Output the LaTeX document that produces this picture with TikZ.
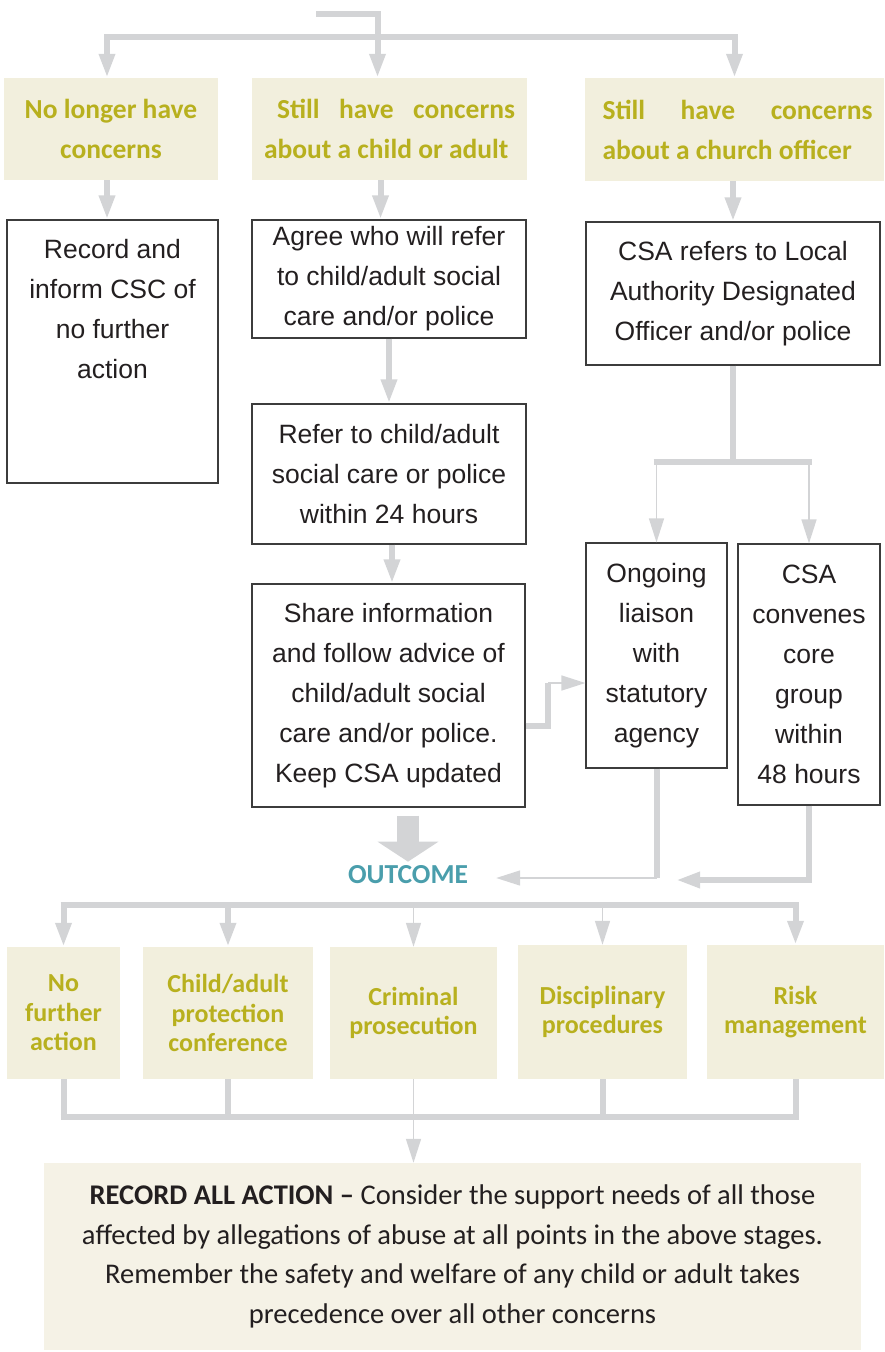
\documentclass[tikz,border=0pt]{standalone}
\usepackage{fontspec}
\usepackage{tikz}
\usetikzlibrary{arrows.meta}

\setmainfont{Liberation Sans}
\newfontfamily\calfont{Carlito}

\definecolor{gfill}{RGB}{242,239,221}
\definecolor{rfill}{RGB}{245,242,230}
\definecolor{gtext}{RGB}{184,176,30}
\definecolor{otext}{RGB}{74,158,172}
\definecolor{conn}{RGB}{211,212,214}
\definecolor{boxline}{RGB}{60,60,60}
\definecolor{txt}{RGB}{35,31,32}

\newcommand{\gfont}{\calfont\bfseries\fontsize{27.5}{40}\selectfont}
\newcommand{\bfont}{\calfont\bfseries\fontsize{26}{29.5}\selectfont}
\newcommand{\wfont}{\fontsize{26.5}{40}\selectfont}
\newcommand{\rfont}{\calfont\fontsize{28.5}{39.5}\selectfont}

\tolerance=10000
\hyphenpenalty=10000

\begin{document}
\begin{tikzpicture}[x=1pt, y=-1pt,
    gbox/.style={fill=gfill, text=gtext, font=\gfont, align=center, inner sep=0pt},
    obox/.style={gbox, font=\bfont},
    wbox/.style={draw=boxline, line width=1.2pt, text=txt, font=\wfont, align=center, inner sep=0pt},
    thickline/.style={color=conn, line width=6pt},
    thinline/.style={color=conn, line width=1.5pt},
    head/.style={-{Triangle[length=24pt, width=15pt]}},
    fatline/.style={color=conn, line width=22pt, -{Triangle[length=20pt, width=60pt]}}]
	\useasboundingbox (0,0) rectangle (884,1352);

	\node[gbox, minimum width=214pt, minimum height=102pt] (a) at (111, 129)     {No longer have\\concerns};
	\node[gbox, minimum width=275pt, minimum height=102pt, text width=251pt, align=justify] (b) at (389.5, 129)     {\hspace*{13pt}Still have concerns\linebreak about a child or adult};
	\node[gbox, minimum width=299pt, minimum height=103pt, text width=276pt, align=justify] (c) at (734.5, 129.5)     {\hspace*{6pt}Still have concerns\linebreak \hspace*{6pt}about a church officer};

	\node[wbox, minimum width=211pt, minimum height=263pt] (d) at (112.5, 351.5)     {Record and\\inform CSC of\\no further\\action\\[46pt]\mbox{}};
	\node[wbox, minimum width=274pt, minimum height=118pt] (e) at (389, 279)     {Agree who will refer\\to child/adult social\\care and/or police};
	\node[wbox, minimum width=294pt, minimum height=143pt] (f) at (733, 293.5)     {CSA refers to Local\\Authority Designated\\Officer and/or police};

	\node[wbox, minimum width=274pt, minimum height=140pt] (g) at (389, 474)     {Refer to child/adult\\social care or police\\within 24 hours};
	\node[wbox, minimum width=273pt, minimum height=223pt] (h) at (388.5, 695.5)     {Share information\\and follow advice of\\child/adult social\\care and/or police.\\Keep CSA updated};

	\node[wbox, minimum width=141pt, minimum height=225pt] (i) at (656.5, 655.5)     {Ongoing\\liaison\\with\\statutory\\agency};
	\node[wbox, minimum width=142pt, minimum height=261pt] (j) at (809, 674.5)     {CSA\\convenes\\core\\group\\within\\48 hours};

	\node[text=otext, font=\gfont, inner xsep=28pt, inner ysep=4pt] (k) at (408, 875)     {OUTCOME};

	\node[obox, minimum width=113pt, minimum height=132pt] (l) at (63.5, 1013)     {No\\further\\action};
	\node[obox, minimum width=170pt, minimum height=132pt] (m) at (228, 1013)     {Child/adult\\protection\\conference};
	\node[obox, minimum width=167pt, minimum height=132pt] (n) at (413.5, 1013)     {Criminal\\prosecution};
	\node[obox, minimum width=169pt, minimum height=134pt] (o) at (602.5, 1012)     {Disciplinary\\procedures};
	\node[obox, minimum width=177pt, minimum height=134pt] (p) at (795.5, 1012)     {Risk\\management};

	\node[fill=rfill, text=txt, font=\rfont, align=center, inner sep=0pt, minimum width=817pt, minimum height=187pt] (q) at (452.5, 1256.5)     {\textbf{RECORD ALL ACTION –} Consider the support needs of all those\\affected by allegations of abuse at all points in the above stages.\\Remember the safety and welfare of any child or adult takes\\precedence over all other concerns};

	\coordinate (s) at (316, 14);
	\coordinate (t) at (0, 37);
	\coordinate (f1) at (0, 462);
	\coordinate (h1) at (548, 683);
	\coordinate (i1) at (0, 878);
	\coordinate (j1) at (676, 880);
	\coordinate (k1) at (0, 905);
	\coordinate (q1) at (0, 1117);

    % top split
    \draw[thickline, head] (s) -| ([xshift=-12pt]b.north);
    \draw[thickline, head] (c.north |- t) -| ([xshift=-4pt]a.north);
    \path[thickline, head] ([yshift=3pt]c.north |- t) edge (c.north);

    \path[thickline, head] ([xshift=-4pt]a.south) edge ([xshift=-4pt]a.south |- d.north);
    \path[thickline, head] ([xshift=-9pt]b.south) edge ([xshift=-9pt]b.south |- e.north);
    \path[thickline, head] (f.north |- c.south) edge (f.north);

    \path[thickline, head] (e.south) edge (e.south |- g.north);
    \path[thickline, head] ([xshift=3pt]g.south) edge ([xshift=3pt]g.south |- h.north);

    % church officer branch
    \draw[thickline] (f.south) -- (f.south |- f1);
    \draw[thickline] ([xshift=-3pt]i.north |- f1) -- ([xshift=3pt]j.north |- f1);
    \path[thinline, head] (i.north |- f1) edge (i.north);
    \path[thinline, head] (j.north |- f1) edge (j.north);

    \draw[thickline] ([yshift=-30pt]h.east) -| (h1);
    \path[thinline, head] (h1) edge (i.west |- h1);

    % into outcome
    \path[fatline] ([yshift=-8pt]h.south -| k.north) edge (k.north);
    \draw[thickline] (i.south) -- (i.south |- i1);
    \path[thinline, head] (i.south |- i1) edge (k.east |- i1);
    \draw[thickline, head] (j.south) |- (j1);

    % outcome split
    \draw[thickline] ([xshift=-3pt]l.north |- k1) -- ([xshift=3pt]p.north |- k1);
    \path[thickline, head] (l.north |- k1) edge (l.north);
    \path[thickline, head] (m.north |- k1) edge (m.north);
    \path[thinline, head] (n.north |- k1) edge (n.north);
    \path[thinline, head] (o.north |- k1) edge (o.north);
    \path[thickline, head] (p.north |- k1) edge (p.north);

    % gather
    \draw[thickline] (l.south) -- (l.south |- q1);
    \draw[thickline] (m.south) -- (m.south |- q1);
    \draw[thickline] (o.south) -- (o.south |- q1);
    \draw[thickline] (p.south) -- (p.south |- q1);
    \draw[thickline] ([xshift=-3pt]l.south |- q1) -- ([xshift=3pt]p.south |- q1);
    \path[thinline, head] (n.south) edge (n.south |- q.north);

\end{tikzpicture}
\end{document}
